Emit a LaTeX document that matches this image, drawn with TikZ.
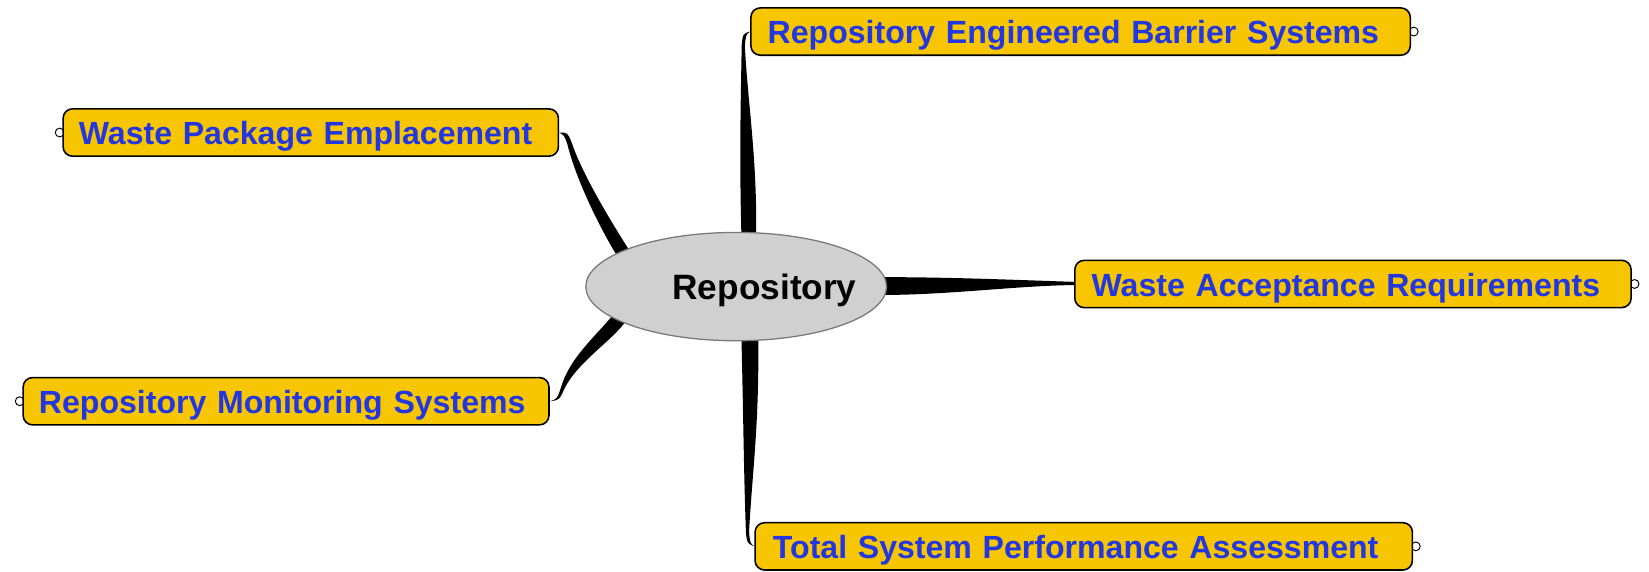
\documentclass[tikz,border=0pt]{standalone}
\usepackage{fontspec}
\setmainfont{Liberation Sans}
\usetikzlibrary{shapes.geometric,calc,backgrounds}
\definecolor{topicyellow}{RGB}{247,198,0}
\definecolor{topicblue}{RGB}{35,55,225}
\definecolor{hubgray}{RGB}{208,208,208}
\definecolor{hubline}{RGB}{120,120,120}
\tikzset{
  topic/.style={draw=black, line width=0.75pt, fill=topicyellow, rounded corners=4.5pt,
    font=\fontsize{15.25pt}{18pt}\selectfont\bfseries, text=topicblue, align=left,
    minimum height=22.5pt, inner ysep=0pt, text height=11.5pt, text depth=0pt},
  hub/.style={ellipse, draw=hubline, line width=0.6pt, fill=hubgray, minimum width=143pt,
    minimum height=51.5pt, inner sep=0pt, font=\fontsize{16.75pt}{20pt}\selectfont\bfseries, text=black,
    text height=12.5pt, text depth=0pt},
  conn/.style={fill=black},
  knob/.style={draw=black, fill=white, line width=0.45pt}
}
\begin{document}
\begin{tikzpicture}[x=0.5pt, y=-0.5pt]
\useasboundingbox (0,0) rectangle (1568,543);

\node[hub] (repo) at (700,272.5) {\makebox[0pt]{\hspace*{27pt}Repository}};

\node[topic, text width=297.5pt, inner xsep=8pt] (rebs) at (1027.5,30) {\mbox{Repository Engineered Barrier Systems}};
\node[topic, text width=220.5pt, inner xsep=7.5pt] (wpe) at (295.5,126) {\mbox{Waste Package Emplacement}};
\node[topic, text width=248.5pt, inner xsep=8pt] (war) at (1286.5,270) {\mbox{Waste Acceptance Requirements}};
\node[topic, text width=235pt, inner xsep=7.5pt] (rms) at (272,381.5) {\mbox{Repository Monitoring Systems}};
\node[topic, text width=295.5pt, inner xsep=8.5pt] (tspa) at (1030.5,519.5) {\mbox{Total System Performance Assessment}};

\begin{scope}[on background layer]
  % knobs
  \draw[knob] ($(rebs.east)+(2.5,0)$) circle[radius=2.1pt];
  \draw[knob] ($(wpe.west)+(-2.5,0)$) circle[radius=2.1pt];
  \draw[knob] ($(war.east)+(2.5,0)$) circle[radius=2.1pt];
  \draw[knob] ($(rms.west)+(-2.5,0)$) circle[radius=2.1pt];
  \draw[knob] ($(tspa.east)+(2.5,0)$) circle[radius=2.1pt];

  % connector to REBS
  \fill[conn] ($(repo.north)+(5,4)$) .. controls ($(repo.north)+(3,-70)$) and ($(rebs.west)+(-9,70)$) .. ($(rebs.west)+(-8,14)$)
     .. controls ($(rebs.west)+(-7,2)$) .. (rebs.west)
     .. controls ($(rebs.west)+(-4,3)$) .. ($(rebs.west)+(-5,14)$)
     .. controls ($(rebs.west)+(-2,70)$) and ($(repo.north)+(20,-70)$) .. ($(repo.north)+(19,4)$) -- cycle;

  % connector to TSPA
  \fill[conn] ($(repo.south)+(5,-4)$) .. controls ($(repo.south)+(7,80)$) and ($(tspa.west)+(-10,-70)$) .. ($(tspa.west)+(-8,-14)$)
     .. controls ($(tspa.west)+(-7,-3)$) .. (tspa.west)
     .. controls ($(tspa.west)+(-4,-3)$) .. ($(tspa.west)+(-5,-14)$)
     .. controls ($(tspa.west)+(-2,-70)$) and ($(repo.south)+(22,80)$) .. ($(repo.south)+(21,-4)$) -- cycle;

  % connector to WAR
  \fill[conn] ($(repo.east)+(-8,-9)$) .. controls ($(repo.east)+(60,-9)$) and ($(war.west)+(-60,-4)$) .. ($(war.west)+(0,-2)$)
     -- ($(war.west)+(0,1)$) .. controls ($(war.west)+(-60,2)$) and ($(repo.east)+(60,8)$) .. ($(repo.east)+(-8,8)$) -- cycle;

  % connector to WPE
  \fill[conn] (wpe.east) .. controls ($(wpe.east)+(8,0)$) .. ($(wpe.east)+(12,10)$)
     .. controls ($(wpe.east)+(22,40)$) and ($(repo.center)+(-118,-60)$) .. ($(repo.center)+(-100,-32)$)
     -- ($(repo.center)+(-110,-24)$)
     .. controls ($(repo.center)+(-128,-52)$) and ($(wpe.east)+(16,45)$) .. ($(wpe.east)+(8,12)$)
     .. controls ($(wpe.east)+(5,3)$) .. (wpe.east) -- cycle;

  % connector to RMS
  \fill[conn] (rms.east) .. controls ($(rms.east)+(7,-2)$) .. ($(rms.east)+(11,-14)$)
     .. controls ($(rms.east)+(20,-45)$) and ($(repo.center)+(-125,40)$) .. ($(repo.center)+(-112,20)$)
     -- ($(repo.center)+(-102,28)$)
     .. controls ($(repo.center)+(-112,48)$) and ($(rms.east)+(28,-40)$) .. ($(rms.east)+(14,-12)$)
     .. controls ($(rms.east)+(9,-1)$) .. (rms.east) -- cycle;
\end{scope}
\end{tikzpicture}
\end{document}
